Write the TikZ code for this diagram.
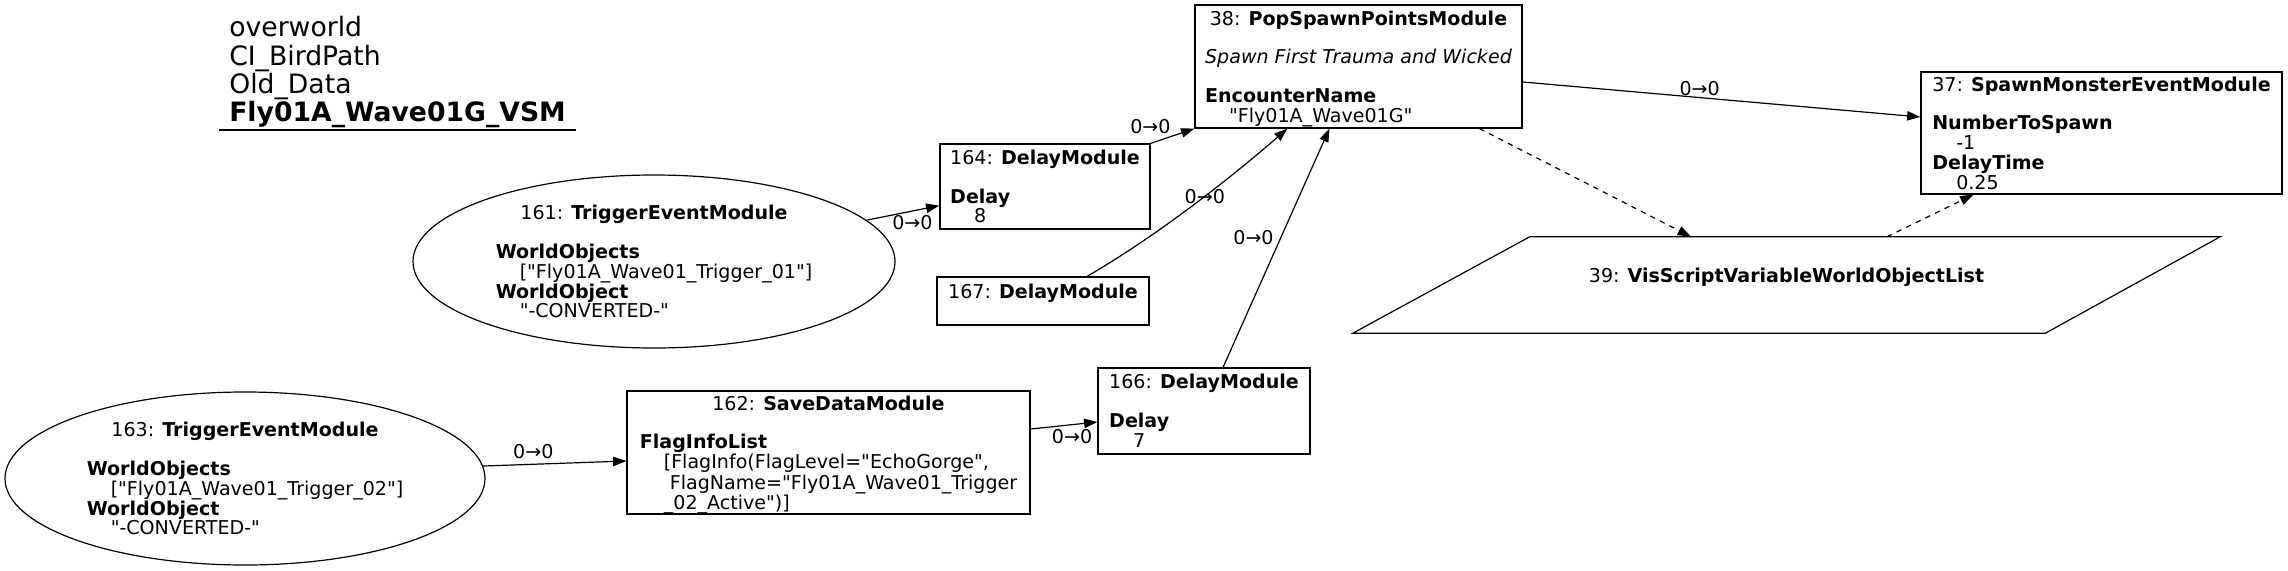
\documentclass[tikz,border=0pt]{standalone}
\usepackage{fontspec}
\setmainfont{DejaVu Sans}[Ligatures=TeXOff]
\usepackage{tikz}
\usetikzlibrary{calc,positioning,arrows.meta,shapes.geometric}
\tikzset{
  boxsize/.style 2 args={
      minimum width=#1*0.75pt,
      minimum height=#2*0.75pt,
  },
  module/.style={
      draw,
      rectangle,
      inner sep=0pt,
      line width=0.9pt,
      font=\fontsize{14.3}{14}\selectfont,
  },
  trigger/.style={
      draw,
      ellipse,
      inner sep=0pt,
      line width=0.9pt,
      font=\fontsize{14.3}{14}\selectfont,
  },
  varbox/.style={
      rectangle,
      inner sep=0pt,
      font=\fontsize{14.3}{14}\selectfont,
  },
  flow/.style={
      -{Triangle[length=10pt,width=7pt]},
      line width=0.9pt,
  },
  varlink/.style={
      flow,
      dash pattern=on 4pt off 4pt,
  },
  edgelabel/.style={
      font=\fontsize{14.3}{14}\selectfont,
      inner sep=1pt,
  },
}
\newcommand{\modtext}[1]{%
%     lines of a module, a little lower than the strut centre
    \raisebox{-2pt}[\height][\depth]{\begin{tabular}{@{}l@{}}#1\end{tabular}}%
}
\newcommand{\modhead}[2]{%
%     title line, centred over the fields
    \multicolumn{1}{@{}c@{}}{#1: \textbf{#2}}%
}
\newcommand{\field}[1]{%
    \textbf{#1}%
}
\newcommand{\fval}{\hspace*{18pt}}

\begin{document}
\begin{tikzpicture}[x=0.75pt,y=-0.75pt]
  \useasboundingbox (0,0) rectangle (2288,571);

  \node[anchor=south west, inner xsep=7.5pt, inner ysep=0pt,
        font=\fontsize{20}{20}\selectfont] (title) at (219,130) {\begin{tabular}{@{}l@{}}
      overworld\\
      CI\_BirdPath\\
      Old\_Data\\
      \textbf{Fly01A\_Wave01G\_VSM}
  \end{tabular}};
  \draw[line width=0.9pt] (title.south west) -- (title.south east);

  \node[module, boxsize={327}{123}] (m38) at (1358.5,66.5) {\modtext{
      \modhead{38}{PopSpawnPointsModule}\\ \\
      \textit{Spawn First Trauma and Wicked}\\ \\
      \field{EncounterName}\\
      \fval"Fly01A\_Wave01G"}};
  \node[module, boxsize={361}{122}] (m37) at (2101.5,133) {\modtext{
      \modhead{37}{SpawnMonsterEventModule}\\ \\
      \field{NumberToSpawn}\\
      \fval-1\\
      \field{DelayTime}\\
      \fval0.25}};
  \node[varbox, boxsize={867}{96}] (v39) at (1786.5,285) {\modtext{
      \modhead{39}{VisScriptVariableWorldObjectList}\\
      \mbox{}}};
  % slanted outline of the variable
  \draw[line width=0.9pt] ($(v39.north west)+(177,0)$) -- (v39.north east)
      -- ($(v39.south east)+(-175,0)$) -- (v39.south west) -- cycle;
  \node[module, boxsize={210}{85}] (m164) at (1045,186.5) {\modtext{
      \modhead{164}{DelayModule}\\ \\
      \field{Delay}\\
      \fval8}};
  \node[module, boxsize={212}{48}] (m167) at (1043,301) {\modtext{
      \modhead{167}{DelayModule}\\
      \mbox{}}};
  \node[module, boxsize={212}{86}] (m166) at (1204,411) {\modtext{
      \modhead{166}{DelayModule}\\ \\
      \field{Delay}\\
      \fval7}};
  \node[module, boxsize={403}{123}] (m162) at (828.5,452.5) {\modtext{
      \modhead{162}{SaveDataModule}\\ \\
      \field{FlagInfoList}\\
      \fval[FlagInfo(FlagLevel="EchoGorge",\\
      \fval\hspace*{4.5pt}FlagName="Fly01A\_Wave01\_Trigger\\
      \fval\_02\_Active")]}};
  \node[trigger, boxsize={482}{173}] (t161) at (654,261.5) {\modtext{
      \modhead{161}{TriggerEventModule}\\ \\
      \field{WorldObjects}\\
      \fval["Fly01A\_Wave01\_Trigger\_01"]\\
      \field{WorldObject}\\
      \fval"-CONVERTED-"}};
  \node[trigger, boxsize={480}{173}] (t163) at (245,478.5) {\modtext{
      \modhead{163}{TriggerEventModule}\\ \\
      \field{WorldObjects}\\
      \fval["Fly01A\_Wave01\_Trigger\_02"]\\
      \field{WorldObject}\\
      \fval"-CONVERTED-"}};

  % flow connectors
  \draw[flow] (t161.11) -- node[edgelabel, pos=0.63, anchor=north, yshift=-2pt] (l161) {0→0} ($(m164.south west)+(0,-24)$);
  \draw[flow] (t163.3) -- node[edgelabel, pos=0.35, anchor=south, yshift=2.5pt] (l163) {0→0} ($(m162.west)+(0,8.5)$);
  \draw[flow] ($(m162.east)+(0,-23.5)$) -- node[edgelabel, pos=0.62, anchor=north, yshift=-2pt] (l162) {0→0} ($(m166.west)+(0,11)$);
  \draw[flow] (m164.north east) -- node[edgelabel, pos=0.5, anchor=south east] (l164) {0→0} (m38.south west);
  \draw[flow] ($(m167.north)+(44,0)$) .. controls +(69,-40) and +(-60,52) .. node[edgelabel, pos=0.57] (l167) {0→0} ($(m38.south west)+(93,0)$);
  \draw[flow] ($(m166.north)+(19,0)$) -- node[edgelabel, pos=0.544, anchor=east, xshift=-4pt] (l166) {0→0} ($(m38.south west)+(135,0)$);
  \draw[flow] ($(m38.east)+(0,15.5)$) -- node[edgelabel, pos=0.445, anchor=south] (l38) {0→0} ($(m37.west)+(0,-16)$);
  % variable links
  \draw[varlink] ($(m38.south west)+(285,0)$) -- ($(v39.north)+(-95.5,0)$);
  \draw[varlink] ($(v39.north)+(100.5,0)$) -- ($(m37.south west)+(53,0)$);
\end{tikzpicture}
\end{document}
